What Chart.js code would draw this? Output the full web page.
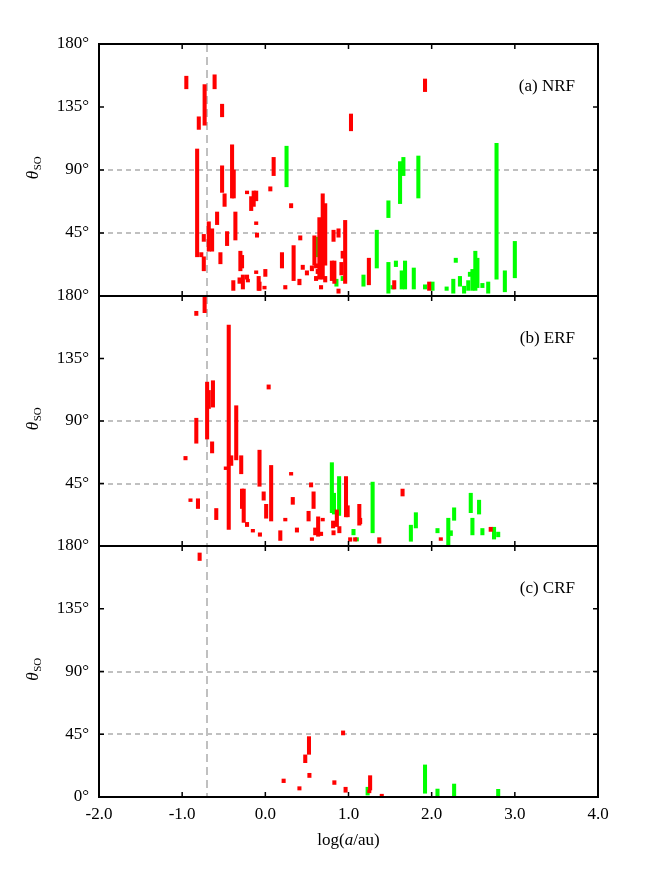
<!DOCTYPE html>
<html><head><meta charset="utf-8">
<script src="https://cdn.jsdelivr.net/npm/chart.js@4.4.0/dist/chart.umd.min.js"></script>
<style>
html,body{margin:0;padding:0;background:#fff;}
#wrap{position:relative;width:664px;height:886px;}
canvas{position:absolute;left:0;top:0;}
</style></head><body>
<div id="wrap">
<canvas id="c1" width="664" height="886"></canvas>
<canvas id="c2" width="664" height="886"></canvas>
<canvas id="c3" width="664" height="886"></canvas>
</div>
<script>
// ---- data: [log(a/au), theta_min, theta_max] ----
const nrfRed = [
  [-0.95,148,157],[-0.61,148,158],[-0.73,122,151],[-0.80,119,128],[-0.52,128,137],
  [-0.82,28,105],[-0.77,28,31],[-0.74,18,28],[-0.74,39,44],[-0.68,32,53],[-0.64,32,48],
  [-0.54,23,31],[-0.58,51,60],[-0.52,74,93],[-0.49,64,73],[-0.46,36,46],[-0.40,70,108],
  [-0.38,70,90],[-0.36,40,60],[-0.30,18,32],[-0.28,20,29],[-0.27,5,15],[-0.385,4,11],
  [-0.31,9,13],[-0.22,12,15],[-0.21,10,12],[-0.22,73,75],[-0.17,61,71],[-0.14,64,75],
  [-0.11,68,75],[-0.11,51,53],[-0.10,42,45],[-0.11,16,18],[-0.08,4,14],[-0.07,4,10],
  [0.00,14,19],[-0.01,5,7],[0.06,75,78],[0.10,86,99],[0.31,63,66],[0.20,20,31],
  [0.34,11,36],[0.42,40,43],[0.41,8,12],[0.45,19,22],[0.50,15,18],[0.24,5,7.5],
  [1.03,118,130],[0.56,18,21.5],[0.59,22,43],[0.61,20,23],[0.61,11,14],[0.65,12,56],
  [0.69,12,73],[0.72,22,66],[0.72,10,14],[0.63,16,19],[0.67,5,7.5],[0.82,39,47],
  [0.88,42,48],[0.80,11,25],[0.83,9,25],[0.88,2,5],[0.915,15,24],[0.93,27,32],
  [0.96,9,54],[1.245,8,27],[1.55,5,11],[1.92,146,155],[1.97,4,10]
];
const nrfGreen = [
  [0.255,78,107],[0.61,28,42],[0.855,7,12],[0.93,11,14],[1.18,7,15],[1.34,20,47],
  [1.48,56,68],[1.48,2,24],[1.57,21,25],[1.53,5,7.5],[1.62,66,96],[1.66,86,99],
  [1.64,5,18],[1.68,5,25],[1.84,70,100],[1.785,5,20],[1.92,5,8],[2.01,4,10],
  [2.18,4,6.5],[2.26,2,12],[2.29,24,27],[2.34,7,14],[2.39,2,7],[2.44,4,11],
  [2.46,14,17],[2.49,4,19],[2.525,4,32],[2.55,6,27],[2.61,6,9],[2.68,2,10],
  [2.78,12,109],[2.88,3,18],[3.00,13,39]
];
const erfRed = [
  [-0.73,168,180],[-0.83,166,169],[-0.44,12,159],[-0.70,77,118],[-0.68,99,112],
  [-0.63,100,119],[-0.83,74,92],[-0.64,67,75],[-0.96,62,64.5],[-0.35,62,101],
  [-0.41,58,65],[-0.475,55,57],[-0.29,52,65],[-0.07,43,69],[-0.28,27,41],[-0.26,17,41],
  [-0.59,19,27],[-0.81,27,34],[-0.90,32,34],[-0.22,14,17],[-0.15,10,12],[-0.065,7,9.5],
  [-0.02,33,39],[0.01,20,30],[0.07,18,58],[0.04,113,116],[0.31,51,53],[0.33,30,35],
  [0.24,18,20],[0.18,4,11],[0.38,10,13],[0.55,42.5,45.5],[0.58,27,39],[0.52,18,25],
  [0.56,4,6],[0.60,8,13],[0.635,7,21],[0.67,7.5,10],[0.69,18,20],[0.815,13,18],
  [0.82,8,11],[0.86,14,26],[0.89,9.5,14],[0.97,21,50],[0.99,21,29],[1.02,3.4,6],
  [1.08,3.5,6],[1.13,15,30],[1.14,16,20],[1.37,2,6],[1.65,36,41],[2.11,4,6],
  [2.71,10.5,13.5]
];
const erfGreen = [
  [0.80,24,60],[0.825,23,38],[0.887,22,50],[1.06,8,12],[1.10,3.6,6],[1.29,9.5,46],
  [1.75,3.4,15],[1.81,13,24],[2.07,9.5,12.6],[2.20,0,20],[2.23,7.5,11],[2.27,18.5,27.5],
  [2.47,24,38],[2.49,8,20],[2.57,23,33],[2.61,8,12.6],[2.75,5,13.5],[2.80,6.6,10]
];
const crfRed = [
  [-0.79,169.6,175],[0.525,30.6,43.3],[0.48,24.6,30.2],[0.53,14,17],[0.22,10.3,12.9],
  [0.41,5,7.4],[0.83,9,11.7],[0.935,44.5,47.4],[0.965,3.4,7],[1.26,5,15.3],
  [1.25,3,5],[1.40,0,2]
];
const crfGreen = [
  [1.23,1.4,7],[1.92,2.7,23],[2.07,0,5.7],[2.27,0,9.3],[2.80,0,5.5]
];
const yTicks = [0,45,90,135,180];
const xTicks = [-2,-1,0,1,2,3,4];
const gridAngles = [90,45];
const dashedX = -0.7;
const panelLabels = ['(a) NRF','(b) ERF','(c) CRF'];

const RED = '#ff0000', GREEN = '#00ff00', GRID = '#c0c0c0';
const SERIF = "'Liberation Serif', 'DejaVu Serif', serif";

const framePlugin = {
  id: 'frame',
  beforeDatasetsDraw(chart) {
    const {ctx, chartArea: a, scales: {x, y}} = chart;
    ctx.save();
    ctx.strokeStyle = GRID; ctx.lineWidth = 2;
    ctx.setLineDash([5, 4]);
    gridAngles.forEach(v => {
      const py = Math.round(y.getPixelForValue(v));
      ctx.beginPath(); ctx.moveTo(a.left, py); ctx.lineTo(a.right, py); ctx.stroke();
    });
    ctx.setLineDash([8, 5]);
    const px = Math.round(x.getPixelForValue(dashedX));
    ctx.beginPath(); ctx.moveTo(px, a.top); ctx.lineTo(px, a.bottom); ctx.stroke();
    ctx.restore();
  },
  afterDatasetsDraw(chart, args, opts) {
    const {ctx, chartArea: a, scales: {x, y}} = chart;
    ctx.save();
    ctx.strokeStyle = '#000'; ctx.lineWidth = 2;
    ctx.strokeRect(a.left, a.top, a.right - a.left, a.bottom - a.top);
    ctx.lineWidth = 1.5;
    const tl = 5;
    yTicks.forEach(v => {
      const py = y.getPixelForValue(v);
      ctx.beginPath();
      ctx.moveTo(a.left, py); ctx.lineTo(a.left + tl, py);
      ctx.moveTo(a.right, py); ctx.lineTo(a.right - tl, py);
      ctx.stroke();
    });
    xTicks.forEach(v => {
      const px = x.getPixelForValue(v);
      ctx.beginPath();
      ctx.moveTo(px, a.top); ctx.lineTo(px, a.top + tl);
      ctx.moveTo(px, a.bottom); ctx.lineTo(px, a.bottom - tl);
      ctx.stroke();
    });
    // panel label
    ctx.fillStyle = '#000';
    ctx.font = '17px ' + SERIF;
    ctx.textAlign = 'right'; ctx.textBaseline = 'alphabetic';
    ctx.fillText(opts.label, 575, a.top + 47);
    // y title theta_SO
    const cy = (a.top + a.bottom) / 2 - 2;
    ctx.translate(33, cy);
    ctx.rotate(-Math.PI / 2);
    ctx.font = 'italic 17px ' + SERIF;
    const w1 = ctx.measureText('θ').width;
    ctx.font = '11px ' + SERIF;
    const w2 = ctx.measureText('SO').width;
    const start = -(w1 + w2) / 2;
    ctx.textAlign = 'left'; ctx.textBaseline = 'alphabetic';
    ctx.font = 'italic 17px ' + SERIF;
    ctx.fillText('θ', start, 5);
    ctx.font = '11px ' + SERIF;
    ctx.fillText('SO', start + w1 + 0.5, 8);
    ctx.setTransform(1, 0, 0, 1, 0, 0);
    if (opts.xTitle) {
      const cx = (a.left + a.right) / 2;
      const parts = [['log(', ''], ['a', 'italic '], ['/au)', '']];
      let total = 0;
      parts.forEach(p => { ctx.font = p[1] + '17px ' + SERIF; total += ctx.measureText(p[0]).width; });
      let xx = cx - total / 2;
      ctx.textAlign = 'left'; ctx.textBaseline = 'middle';
      parts.forEach(p => { ctx.font = p[1] + '17px ' + SERIF; ctx.fillText(p[0], xx, 841); xx += ctx.measureText(p[0]).width; });
    }
    ctx.restore();
  }
};

function toBars(arr) { return arr.map(d => ({x: d[0], y: [d[1], d[2]]})); }

function makeChart(id, red, green, cfg) {
  return new Chart(document.getElementById(id), {
    type: 'bar',
    data: { datasets: [
      {data: toBars(red), backgroundColor: RED},
      {data: toBars(green), backgroundColor: GREEN}
    ]},
    options: {
      responsive: false, animation: false, devicePixelRatio: 1,
      layout: {padding: {top: cfg.top, bottom: cfg.bottom, left: 0, right: 66}},
      plugins: {legend: {display: false}, tooltip: {enabled: false}, frame: {label: cfg.label, xTitle: cfg.showX}},
      datasets: {bar: {barThickness: 3.4, grouped: false, borderWidth: 0}},
      scales: {
        x: {type: 'linear', min: -2, max: 4, offset: false, display: cfg.showX,
            grid: {display: false, drawTicks: false}, border: {display: false},
            ticks: {stepSize: 1, maxRotation: 0, padding: 7, color: '#000',
                    font: {family: SERIF, size: 17},
                    callback: v => v.toFixed(1)},
            afterFit(s) { s.height = cfg.showX ? 60 : 0; }},
        y: {min: 0, max: 180, grid: {display: false, drawTicks: false}, border: {display: false},
            ticks: {stepSize: 45, padding: 10, color: '#000', font: {family: SERIF, size: 17},
                    callback: v => (v === 0 && !cfg.showZero) ? '' : v + '°'},
            afterFit(s) { s.width = 99; }}
      }
    },
    plugins: [framePlugin]
  });
}

makeChart('c1', nrfRed, nrfGreen, {top: 44, bottom: 886 - 296, showX: false, showZero: false, label: panelLabels[0]});
makeChart('c2', erfRed, erfGreen, {top: 296, bottom: 886 - 546, showX: false, showZero: false, label: panelLabels[1]});
makeChart('c3', crfRed, crfGreen, {top: 546, bottom: 886 - 797 - 60, showX: true, showZero: true, label: panelLabels[2]});
</script>
</body></html>
